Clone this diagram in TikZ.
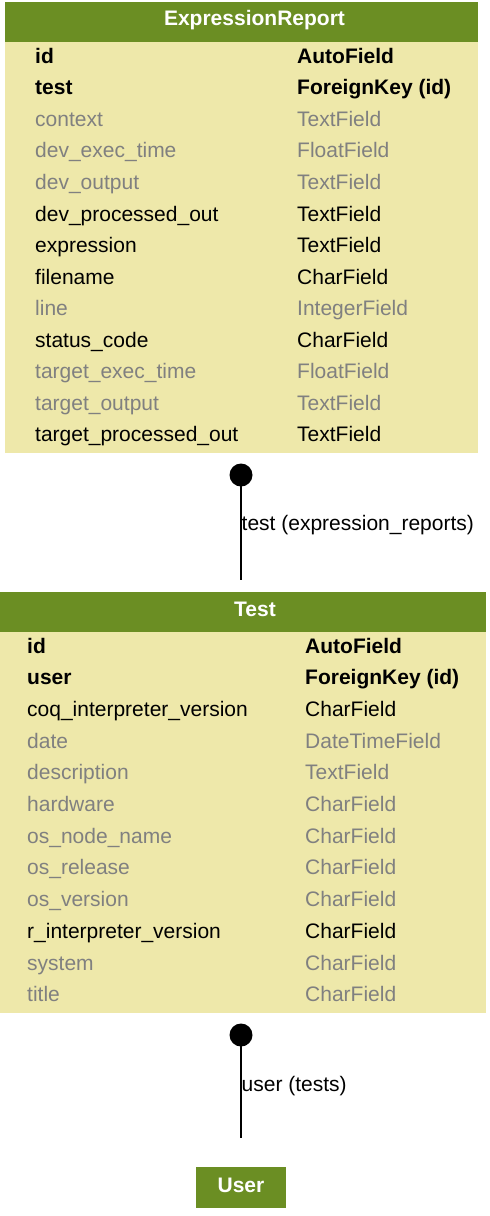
\documentclass[tikz,border=0pt]{standalone}
\usepackage{fontspec}
\setmainfont{Liberation Sans}
\definecolor{hdrgreen}{HTML}{6B8E23}
\definecolor{rowfill}{HTML}{EEE8AA}
\definecolor{dimtext}{HTML}{808080}
\newcommand{\rowfont}{\fontsize{21}{25}\selectfont}
\tikzset{
  hdrbox/.style={fill=hdrgreen, draw=none, inner sep=0, anchor=north west},
  bodybox/.style={fill=rowfill, draw=none, inner sep=0, anchor=north west},
  hdrtext/.style={anchor=base, inner sep=0, text=white, font=\rowfont\bfseries},
  rowkey/.style={anchor=base west, inner sep=0, text=black, font=\rowfont\bfseries},
  rowplain/.style={anchor=base west, inner sep=0, text=black, font=\rowfont},
  rowdim/.style={anchor=base west, inner sep=0, text=dimtext, font=\rowfont},
  fkdot/.style={circle, fill=black, draw=none, minimum size=23, inner sep=0},
  fkline/.style={line width=2pt, black},
  fklabel/.style={anchor=base west, inner sep=0, text=black, font=\rowfont}
}
\begin{document}
\begin{tikzpicture}[x=1pt, y=-1pt]
\useasboundingbox (0,0) rectangle (490,1216);

% ExpressionReport table
\node[hdrbox, minimum width=473, minimum height=40] (erhead) at (5,2) {};
\node[bodybox, minimum width=473, minimum height=411] (erbody) at (5,42) {};
\node[hdrtext] (ertitle) at (254.5,25.5) {ExpressionReport};
\foreach \fname/\ftype/\fstyle [count=\k from 0] in {
  id/AutoField/rowkey,
  test/ForeignKey (id)/rowkey,
  context/TextField/rowdim,
  dev\_exec\_time/FloatField/rowdim,
  dev\_output/TextField/rowdim,
  dev\_processed\_out/TextField/rowplain,
  expression/TextField/rowplain,
  filename/CharField/rowplain,
  line/IntegerField/rowdim,
  status\_code/CharField/rowplain,
  target\_exec\_time/FloatField/rowdim,
  target\_output/TextField/rowdim,
  target\_processed\_out/TextField/rowplain}{
  \node[\fstyle] (er-name-\k) at (35,63.3+31.55*\k) {\fname};
  \node[\fstyle] (er-type-\k) at (297,63.3+31.55*\k) {\ftype};
}

% Test table
\node[hdrbox, minimum width=486, minimum height=40] (testhead) at (0,592) {};
\node[bodybox, minimum width=486, minimum height=381] (testbody) at (0,632) {};
\node[hdrtext] (testtitle) at (255,616) {Test};
\foreach \fname/\ftype/\fstyle [count=\k from 0] in {
  id/AutoField/rowkey,
  user/ForeignKey (id)/rowkey,
  coq\_interpreter\_version/CharField/rowplain,
  date/DateTimeField/rowdim,
  description/TextField/rowdim,
  hardware/CharField/rowdim,
  os\_node\_name/CharField/rowdim,
  os\_release/CharField/rowdim,
  os\_version/CharField/rowdim,
  r\_interpreter\_version/CharField/rowplain,
  system/CharField/rowdim,
  title/CharField/rowdim}{
  \node[\fstyle] (test-name-\k) at (27,653+31.7*\k) {\fname};
  \node[\fstyle] (test-type-\k) at (305,653+31.7*\k) {\ftype};
}

% User table
\node[hdrbox, minimum width=90, minimum height=41] (userhead) at (196,1167) {};
\node[hdrtext] (usertitle) at (241,1192) {User};

% ExpressionReport.test -> Test
\node[fkdot] (dot1) at (241,475) {};
\coordinate (end1) at (241,580);
\draw[fkline] (dot1.center) -- (end1);
\node[fklabel] (lab1) at (241.5,530) {test (expression\_reports)};

% Test.user -> User
\node[fkdot] (dot2) at (241,1035) {};
\coordinate (end2) at (241,1138);
\draw[fkline] (dot2.center) -- (end2);
\node[fklabel] (lab2) at (241.5,1091) {user (tests)};
\end{tikzpicture}
\end{document}
